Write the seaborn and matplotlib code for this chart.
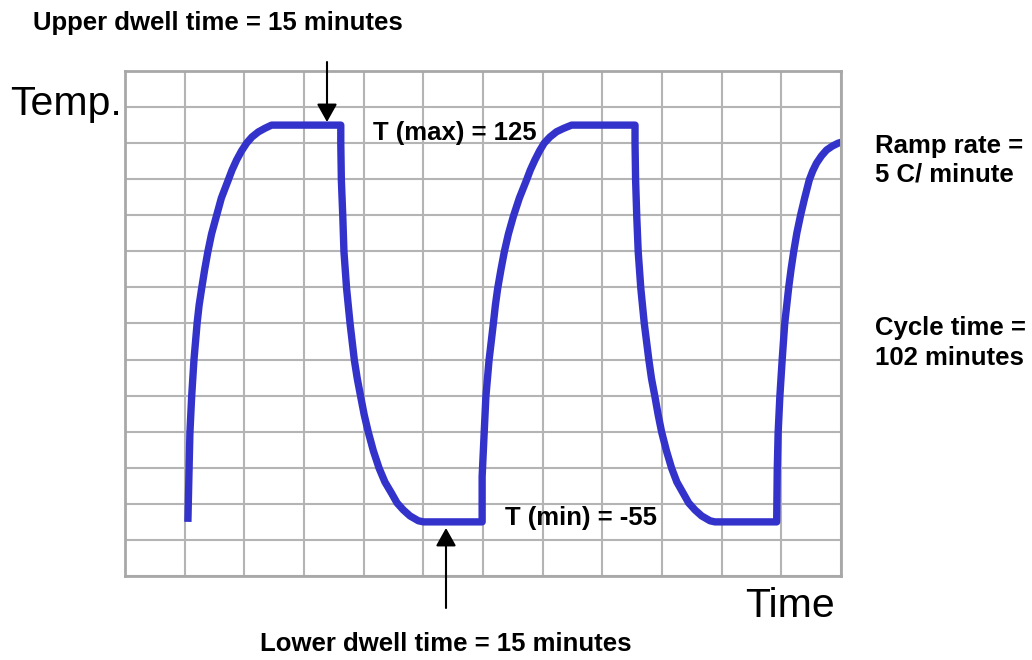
import numpy as np
import pandas as pd
import matplotlib
matplotlib.use('Agg')
import matplotlib.pyplot as plt
import seaborn as sns

sns.set_style("white")
plt.rcParams['font.family'] = ['Liberation Sans', 'DejaVu Sans']
plt.rcParams['text.color'] = 'black'

# temperature profile (minutes, deg C)
time_min = [21.8, 22.2, 22.5, 23.1, 23.9, 25.0, 25.7, 26.6, 27.6, 28.7, 30.0, 31.6, 33.4, 35.8, 37.1,
            38.7, 40.4, 42.2, 44.0, 46.2, 48.4, 50.8,
            74.8, 74.8, 75.0, 75.5, 75.9, 76.8, 78.0, 79.5, 80.5, 81.7, 82.9, 84.3, 86.1, 88.1, 90.1,
            92.4, 94.3, 96.5, 98.8, 101.7, 103.5,
            123.8, 123.8, 124.5, 125.1, 126.2, 127.7, 128.4, 129.2, 130.3, 131.5, 132.9, 134.6, 136.7,
            139.2, 140.5, 142.1, 143.7, 145.3, 147.3, 149.6, 152.0, 154.8,
            176.8, 176.8, 177.0, 177.4, 177.9, 178.8, 180.0, 181.6, 182.5, 183.7, 184.8, 186.0, 187.7,
            189.5, 191.3, 193.5, 195.4, 197.6, 199.9, 202.8, 204.5,
            225.9, 226.1, 226.4, 227.0, 227.8, 228.7, 229.4, 230.1, 230.9, 231.8, 232.9, 234.2, 235.6,
            237.2, 238.4, 239.7, 241.4, 243.2, 245.2, 247.2, 248.2]
temp_c = [-55, -31.5, -14.7, 1.7, 18.4, 35.2, 43.4, 51.1, 59.3, 67.4, 75.6, 83.3, 91.9, 100.1, 104.6,
          109.2, 113.3, 116.9, 119.6, 121.9, 123.5, 125,
          125, 116.9, 100.1, 83.5, 67.6, 51.1, 35.2, 18.4, 10.1, 1.8, -6.3, -14.1, -22.8, -30.7, -36.9,
          -42.0, -46.4, -49.6, -52.3, -54.5, -55,
          -55, -34.5, -14.8, 1.8, 18.4, 35.1, 43.4, 51.0, 59.3, 67.6, 75.6, 83.5, 91.9,
          100.1, 104.6, 109.2, 113.3, 116.8, 119.6, 122.0, 123.5, 125,
          125, 116.8, 100.1, 83.5, 67.6, 51.0, 35.1, 18.4, 10.1, 1.8, -6.3, -14.1, -22.8,
          -30.7, -36.9, -42.0, -46.4, -49.6, -52.3, -54.5, -55,
          -55, -31.5, -14.8, 1.8, 18.4, 35.1, 43.4, 51.7, 59.7, 67.6, 76.1, 84.2, 91.9,
          100.1, 104.2, 107.7, 111.0, 113.7, 115.5, 116.8, 117.2]

t_max = 125
t_min = -55
dwell_upper = 15
dwell_lower = 15
ramp_rate = 5
cycle_time = 102

df = pd.DataFrame({'Time': time_min, 'Temp': temp_c})

W, H = 1032, 660
fig = plt.figure(figsize=(W / 100, H / 100), dpi=100)
ax = fig.add_axes([125 / W, 1 - 576 / H, (841 - 125) / W, (576 - 71) / H])

sns.lineplot(data=df, x='Time', y='Temp', ax=ax, sort=False, estimator=None,
             color='#3333CC', linewidth=5.3, solid_joinstyle='round', solid_capstyle='butt')

x_lo, x_hi = 0, 248.2
y_lo, y_hi = -79.55, 149.55
ax.set_xlim(x_lo, x_hi)
ax.set_ylim(y_lo, y_hi)
ax.set_xticks(np.linspace(x_lo, x_hi, 13))
ax.set_yticks(np.linspace(y_lo, y_hi, 15))
ax.tick_params(length=0, labelbottom=False, labelleft=False)
ax.grid(True, color='#B4B4B4', linewidth=1.5)
ax.set_axisbelow(True)
ax.set_xlabel('')
ax.set_ylabel('')
for s in ax.spines.values():
    s.set_color('#A8A8A8')
    s.set_linewidth(2)


def fx(px):
    return px / W


def fy(py):
    return 1 - py / H


bold = dict(fontsize=18.5, fontweight='bold', color='black', va='baseline')
fig.text(fx(122), fy(115), 'Temp.', fontsize=29.5, color='black', ha='right', va='baseline')
fig.text(fx(745), fy(617), 'Time', fontsize=29.5, color='black', ha='left', va='baseline')
fig.text(fx(218), fy(30), f'Upper dwell time = {dwell_upper} minutes', ha='center', **bold)
fig.text(fx(446), fy(651), f'Lower dwell time = {dwell_lower} minutes', ha='center', **bold)
fig.text(fx(373), fy(140), f'T (max) = {t_max}', ha='left', **bold)
fig.text(fx(505), fy(525), f'T (min) = {t_min}', ha='left', **bold)
fig.text(fx(875), fy(153), 'Ramp rate =', ha='left', **bold)
fig.text(fx(875), fy(182), f'{ramp_rate} C/ minute', ha='left', **bold)
fig.text(fx(875), fy(335), 'Cycle time =', ha='left', **bold)
fig.text(fx(875), fy(365), f'{cycle_time} minutes', ha='left', **bold)

arrow = dict(arrowstyle='-|>,head_length=0.5,head_width=0.28', color='black', lw=1.5,
             mutation_scale=22, shrinkA=0, shrinkB=0)
fig.add_artist(matplotlib.patches.FancyArrowPatch((fx(327), fy(62)), (fx(327), fy(122)),
                                                  transform=fig.transFigure, **arrow))
fig.add_artist(matplotlib.patches.FancyArrowPatch((fx(446), fy(608)), (fx(446), fy(528)),
                                                  transform=fig.transFigure, **arrow))

plt.savefig('out.png', dpi=100)
plt.close()
